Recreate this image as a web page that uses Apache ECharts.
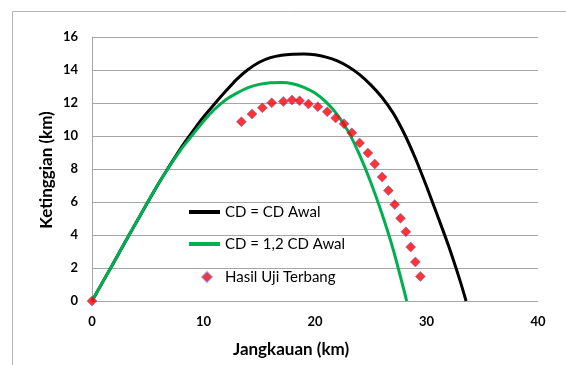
<!DOCTYPE html>
<html>
<head>
<meta charset="utf-8">
<script src="https://cdn.jsdelivr.net/npm/echarts@6/dist/echarts.min.js"></script>
<style>
  html, body { margin: 0; padding: 0; background: #fff; }
  #chart { width: 566px; height: 365px; }
</style>
</head>
<body>
<div id="chart"></div>
<script>
// Trajectory: range (km) vs altitude (km)
const seriesNames = ['CD = CD Awal', 'CD = 1,2 CD Awal', 'Hasil Uji Terbang'];

// Simulation with the original drag coefficient
const cdAwalX = [0, 2, 4, 6, 8, 9, 10, 11, 12, 13, 14, 15, 16, 17, 18, 19, 20, 21, 22, 23, 24, 25, 26, 27, 28, 29, 30, 31, 32, 33, 33.55];
const cdAwalY = [0, 2.4, 4.8, 7.15, 9.3, 10.25, 11.15, 11.95, 12.72, 13.45, 14.03, 14.47, 14.75, 14.9, 14.96, 14.97, 14.92, 14.78, 14.55, 14.2, 13.72, 13.1, 12.35, 11.4, 10.15, 8.65, 6.95, 5.15, 3.3, 1.25, 0];

// Simulation with drag coefficient x 1.2
const cd12X = [0, 2, 4, 6, 8, 9, 10, 11, 12, 13, 14, 15, 16, 17, 18, 19, 20, 21, 22, 23, 24, 25, 26, 27, 28, 28.22];
const cd12Y = [0, 2.4, 4.8, 7.15, 9.2, 10.05, 10.9, 11.62, 12.2, 12.6, 12.93, 13.13, 13.23, 13.25, 13.17, 12.95, 12.6, 12.05, 11.3, 10.25, 8.85, 7.2, 5.3, 3.15, 0.6, 0];

// Flight test measurements
const ujiX = [0, 13.4, 14.35, 15.28, 16.12, 17.16, 17.94, 18.62, 19.41, 20.25, 21.1, 21.85, 22.6, 23.3, 24.0, 24.74, 25.36, 26.02, 26.58, 27.15, 27.67, 28.15, 28.58, 29.0, 29.45];
const ujiY = [0, 10.87, 11.33, 11.71, 12.01, 12.09, 12.18, 12.13, 11.94, 11.78, 11.47, 11.09, 10.74, 10.19, 9.58, 8.97, 8.3, 7.51, 6.69, 5.85, 5.01, 4.19, 3.27, 2.37, 1.49];

const xTicks = [0, 10, 20, 30, 40];
const yTicks = [0, 2, 4, 6, 8, 10, 12, 14, 16];

const pairs = (xs, ys) => xs.map((x, i) => [x, ys[i]]);

const FONT = 'Lato, "Open Sans", sans-serif';
const legendText = { color: '#000', fontFamily: FONT, fontSize: 15, lineHeight: 18 };

const chart = echarts.init(document.getElementById('chart'), null, { renderer: 'canvas' });

chart.setOption({
  animation: false,
  backgroundColor: '#fff',
  grid: { left: 92, top: 37, width: 446, height: 264 },
  xAxis: {
    type: 'value',
    min: xTicks[0],
    max: xTicks[xTicks.length - 1],
    interval: 10,
    axisLine: { show: false },
    axisTick: { show: false },
    splitLine: { show: false },
    axisLabel: { color: '#000', fontFamily: FONT, fontWeight: 'bold', fontSize: 13, margin: 14 }
  },
  yAxis: {
    type: 'value',
    min: yTicks[0],
    max: yTicks[yTicks.length - 1],
    interval: 2,
    axisLine: { show: true, onZero: false, lineStyle: { color: '#a6a6a6', width: 1 } },
    axisTick: { show: false },
    splitLine: { show: true, lineStyle: { color: '#a6a6a6', width: 1.2 } },
    axisLabel: { color: '#000', fontFamily: FONT, fontWeight: 'bold', fontSize: 13, margin: 14 }
  },
  legend: [
    {
      left: 184, top: 198,
      itemWidth: 31, itemHeight: 4, icon: 'rect',
      textStyle: legendText,
      data: [seriesNames[0]]
    },
    {
      left: 184, top: 230,
      itemWidth: 31, itemHeight: 4, icon: 'rect',
      textStyle: legendText,
      data: [seriesNames[1]]
    },
    {
      left: 196, top: 263,
      itemWidth: 10, itemHeight: 10, icon: 'diamond',
      textStyle: Object.assign({}, legendText, { padding: [0, 0, 0, 8] }),
      data: [seriesNames[2]]
    }
  ],
  graphic: [
    {
      type: 'rect',
      shape: { x: 12.5, y: 11.5, width: 700, height: 500 },
      style: { fill: 'none', stroke: '#b4b4b4', lineWidth: 1 },
      silent: true
    },
    {
      type: 'text',
      x: 291, y: 350,
      style: {
        text: 'Jangkauan (km)', fill: '#000', align: 'center', verticalAlign: 'middle',
        font: 'bold 17px ' + FONT
      }
    },
    {
      type: 'text',
      x: 47, y: 170,
      rotation: Math.PI / 2,
      style: {
        text: 'Ketinggian (km)', fill: '#000', align: 'center', verticalAlign: 'middle',
        font: 'bold 17px ' + FONT
      }
    }
  ],
  series: [
    {
      name: seriesNames[0],
      type: 'line',
      smooth: 0.25,
      symbol: 'none',
      lineStyle: { color: '#000', width: 3 },
      itemStyle: { color: '#000' },
      data: pairs(cdAwalX, cdAwalY),
      z: 2
    },
    {
      name: seriesNames[1],
      type: 'line',
      smooth: 0.25,
      symbol: 'none',
      lineStyle: { color: '#00b050', width: 3 },
      itemStyle: { color: '#00b050' },
      data: pairs(cd12X, cd12Y),
      z: 3
    },
    {
      name: seriesNames[2],
      type: 'scatter',
      symbol: 'diamond',
      symbolSize: 10,
      clip: false,
      itemStyle: { color: '#ff0000', borderColor: 'rgba(90,90,200,0.55)', borderWidth: 1 },
      data: pairs(ujiX, ujiY),
      z: 4
    }
  ]
});
</script>
</body>
</html>
